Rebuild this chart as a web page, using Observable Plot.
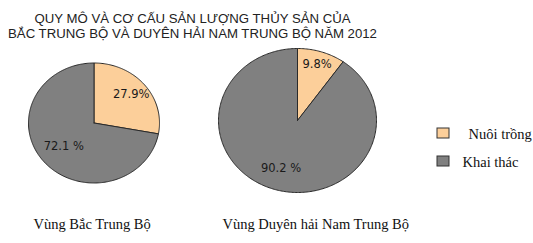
<!DOCTYPE html>
<html>
<head>
<meta charset="utf-8">
<script src="https://cdn.jsdelivr.net/npm/d3@7"></script>
<script src="https://cdn.jsdelivr.net/npm/@observablehq/plot@0.6"></script>
<style>
  html, body { margin: 0; padding: 0; background: #fff; }
  svg { display: block; }
</style>
</head>
<body>
<div id="chart"></div>
<script>
// ---- data ----
const titleLines = ["QUY MÔ VÀ CƠ CẤU SẢN LƯỢNG THỦY SẢN CỦA", "BẮC TRUNG BỘ VÀ DUYÊN HẢI NAM TRUNG BỘ NĂM 2012"];
const regions = ["Vùng Bắc Trung Bộ", "Vùng Duyên hải Nam Trung Bộ"];
const categories = ["Nuôi trồng", "Khai thác"];
const nuoiTrong = [27.9, 9.8];
const khaiThac = [72.1, 90.2];
const valueLabels = [["27.9%", "72.1 %"], ["9.8%", "90.2 %"]];

// ---- layout (pixels) ----
const W = 533, H = 243;
const pieLayout = [
  {cx: 93.5, cy: 122.5, rx: 65.5, ry: 60, labelR: [0.74, 0.6]},
  {cx: 297, cy: 120, rx: 79, ry: 72, labelR: [0.82, 0.69]}
];
const captionX = [33, 222];
const captionY = 228;
const colors = ["#FCCF9A", "#808080"];
const legendLayout = {x: 437, y: [128, 156], w: 12, h: 10, textX: [468, 462], textDy: 10};

// ---- build slice polygons ----
const points = [];
const labels = [];
regions.forEach((reg, i) => {
  const vals = [nuoiTrong[i], khaiThac[i]];
  const total = d3.sum(vals);
  const L = pieLayout[i];
  let a = 0;
  vals.forEach((v, j) => {
    const a0 = a, a1 = a + v / total * 2 * Math.PI;
    a = a1;
    const key = reg + "|" + categories[j];
    points.push({key, cat: categories[j], x: L.cx, y: L.cy});
    const n = Math.max(8, Math.ceil((a1 - a0) / (Math.PI / 180)));
    for (let k = 0; k <= n; k++) {
      const t = a0 + (a1 - a0) * k / n;
      points.push({key, cat: categories[j], x: L.cx + L.rx * Math.sin(t), y: L.cy - L.ry * Math.cos(t)});
    }
    points.push({key, cat: categories[j], x: L.cx, y: L.cy});
    const am = (a0 + a1) / 2;
    labels.push({text: valueLabels[i][j], x: L.cx + L.labelR[j] * L.rx * Math.sin(am), y: L.cy - L.labelR[j] * L.ry * Math.cos(am)});
  });
});

const captions = regions.map((r, i) => ({text: r, x: captionX[i], y: captionY}));
const legend = categories.map((c, i) => ({
  cat: c,
  x1: legendLayout.x, x2: legendLayout.x + legendLayout.w,
  y1: legendLayout.y[i], y2: legendLayout.y[i] + legendLayout.h,
  tx: legendLayout.textX[i], ty: legendLayout.y[i] + legendLayout.textDy
}));
const titles = titleLines.map((t, i) => ({text: t, x: 192, y: [22, 37][i]}));

const chart = Plot.plot({
  width: W,
  height: H,
  margin: 0,
  x: {domain: [0, W], range: [0, W], axis: null},
  y: {domain: [0, H], range: [0, H], axis: null},
  color: {domain: categories, range: colors},
  style: {background: "#fff"},
  marks: [
    Plot.line(points, {x: "x", y: "y", z: "key", fill: "cat", stroke: "#2a2a2a", strokeWidth: 1, curve: "linear"}),
    Plot.text(labels, {x: "x", y: "y", text: "text", fill: "#1a1a1a", fontSize: 11.5, fontFamily: "DejaVu Sans", textAnchor: "middle"}),
    Plot.text(titles, {x: "x", y: "y", text: "text", fill: "#222", fontSize: 13.2, fontFamily: "Liberation Sans", textAnchor: "middle", lineAnchor: "bottom"}),
    Plot.text(captions, {x: "x", y: "y", text: "text", fill: "#111", fontSize: 14.5, fontFamily: "Liberation Serif", textAnchor: "start", lineAnchor: "bottom"}),
    Plot.rect(legend, {x1: "x1", x2: "x2", y1: "y1", y2: "y2", fill: "cat", stroke: "#333", strokeWidth: 1}),
    Plot.text(legend, {x: "tx", y: "ty", text: "cat", fill: "#111", fontSize: 14.5, fontFamily: "Liberation Serif", textAnchor: "start", lineAnchor: "bottom"})
  ]
});
document.getElementById("chart").appendChild(chart);
</script>
</body>
</html>
